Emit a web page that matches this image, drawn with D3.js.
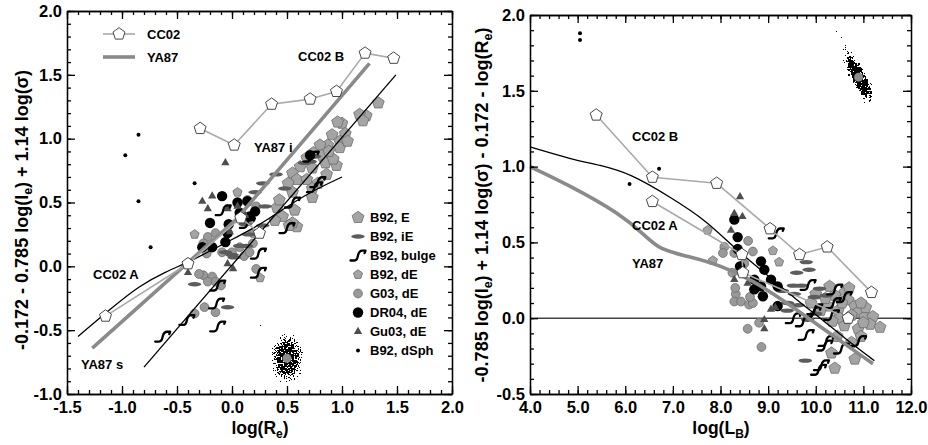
<!DOCTYPE html>
<html>
<head>
<meta charset="utf-8">
<script src="https://cdn.jsdelivr.net/npm/d3@7"></script>
<style>
  html, body { margin: 0; padding: 0; background: #fff; }
  svg { display: block; font-family: "Liberation Sans", Arial, Helvetica, sans-serif; font-weight: bold; }
  .tick text { font: bold 16.5px "Liberation Sans", Arial, sans-serif; fill: #000; }
  .tick line, .domain { stroke: #000; stroke-width: 1.3; }
</style>
</head>
<body>
<svg id="chart" width="928" height="445"></svg>
<script>
// ---------- tick labels ----------
const leftXTicks  = [-1.5, -1.0, -0.5, 0.0, 0.5, 1.0, 1.5, 2.0];
const leftYTicks  = [-1.0, -0.5, 0.0, 0.5, 1.0, 1.5, 2.0];
const rightXTicks = [4, 5, 6, 7, 8, 9, 10, 11, 12];
const rightYTicks = [-0.5, 0.0, 0.5, 1.0, 1.5, 2.0];

// ---------- left panel: log(Re) vs kappa-like combination ----------
const leftE = [[1.33,1.28],[1.22,1.18],[1.16,1.19],[1.19,1.14],[1.00,1.12],[1.03,1.04],[0.96,1.13],[0.91,1.03],
  [0.98,0.98],[0.87,0.95],[0.80,0.95],[0.98,0.93],[0.74,0.89],[0.82,0.87],[0.68,0.85],[0.95,0.79],[0.85,0.81],
  [0.62,0.78],[0.73,0.77],[0.55,0.73],[0.59,0.68],[0.68,0.68],[0.86,0.72],[0.78,0.65],[0.51,0.65],[0.55,0.58],
  [0.73,0.61],[0.73,0.54],[0.57,0.44],[0.41,0.46],[0.46,0.39],[0.59,0.31],[0.55,0.34],[0.39,0.36],[0.52,0.32],
  [0.92,0.84],[0.88,0.90],[1.05,0.98],[0.43,0.52]];
const leftDE = [[-0.34,0.25],[0.05,0.58],[0.255,-0.09]];
const leftG03 = [[-0.22,0.23],[-0.15,0.26],[-0.26,0.18],[-0.23,0.10],[-0.09,0.11],[0.00,0.11],[-0.26,-0.07],
  [-0.18,-0.08],[-0.22,-0.12],[-0.15,-0.12],[-0.25,-0.32],[-0.15,-0.36],[-0.34,-0.37],[-0.06,0.19],[0.07,0.15],
  [0.19,0.18],[0.07,0.40],[0.16,0.36],[0.11,0.08],[0.16,0.11],[0.22,-0.02],[-0.30,-0.06],[-0.10,-0.15],
  [0.14,0.52],[0.22,0.47],[0.19,0.26]];
const leftDR04 = [[-0.09,0.55],[-0.20,0.34],[0.05,0.50],[0.14,0.51],[0.21,0.43],[-0.27,0.15],[-0.18,0.15],
  [-0.04,0.26],[-0.06,0.19],[0.16,0.39],[0.71,0.87],[0.07,0.42],[-0.03,0.33]];
const leftGu03 = [[-0.06,0.81],[-0.27,0.51],[-0.18,0.55],[-0.22,0.45],[-0.04,0.45],[-0.40,-0.05],[-0.04,0.02],
  [0.01,-0.02],[-0.02,0.27],[0.05,0.47],[0.12,0.40]];
const leftIE = [[0.28,0.65],[0.21,0.58],[0.30,0.47],[0.48,0.61],[0.66,0.81],[0.71,0.82],[-0.34,-0.14],[-0.04,-0.32],
  [0.12,0.33],[0.00,0.09],[0.07,0.16],[0.15,0.25],[0.40,0.72],[0.75,0.86],[0.02,0.07],[-0.06,0.11],[0.13,0.16],[0.28,0.32]];
const leftBulge = [[-0.63,-0.55],[-0.41,-0.42],[-0.14,-0.29],[-0.13,-0.47],[-0.13,-0.15],[0.24,0.10],[0.24,-0.05],
  [0.50,0.30],[-0.08,0.44],[0.14,0.34],[0.75,0.62],[0.55,0.50],[0.78,0.66],[0.72,0.86]];
const leftDSph = [[-0.97,0.87],[-0.85,1.03],[-0.85,0.51],[-0.74,0.15],[-0.34,0.65]];

const leftCC02B = [[-0.29,1.08],[0.02,0.95],[0.36,1.27],[0.71,1.31],[0.95,1.37],[1.21,1.67],[1.47,1.63]];
const leftCC02A = [[-1.15,-0.39],[-0.40,0.02],[0.08,0.38],[0.25,0.26]];
const leftFitA = [[-1.40,-0.55],[-1.10,-0.33],[-0.84,-0.15],[-0.60,-0.04],[-0.40,0.03],[-0.20,0.12],[0.00,0.21],
  [0.20,0.30],[0.40,0.41],[0.68,0.57],[1.00,0.70]];
const leftFitB = [[-0.80,-0.79],[1.49,1.50]];
const leftYA87 = [[-1.27,-0.64],[0.03,0.36],[1.25,1.59]];
const leftCloudCentre = [0.50, -0.72];

// ---------- right panel: log(LB) vs the same combination minus log(Re) ----------
const rightE = [[10.29,0.21],[10.61,0.17],[10.68,0.12],[10.47,0.05],[10.82,0.08],[10.89,0.04],[11.03,0.01],
  [11.20,0.01],[11.35,-0.06],[11.14,-0.04],[10.89,-0.07],[10.75,-0.16],[10.82,-0.27],[10.40,-0.33],[10.33,-0.23],
  [10.50,0.00],[10.55,0.10],[10.70,0.20],[10.40,0.15],[10.25,0.08],[10.95,-0.12],[11.05,0.07],[10.60,-0.05],
  [10.75,0.02],[10.35,-0.02],[9.90,0.10],[10.00,0.16],[10.20,0.13],[11.00,-0.03],[10.95,0.10],[10.10,0.05],[10.45,-0.12]];
const rightDE = [[7.73,0.58],[9.10,0.445],[9.23,0.37],[7.84,0.38]];
const rightG03 = [[8.08,0.47],[8.29,0.43],[8.25,0.30],[8.32,0.16],[8.29,0.11],[8.43,0.11],[8.60,0.09],[8.57,-0.07],
  [8.86,-0.19],[8.58,0.51],[8.68,0.10],[8.81,-0.03],[8.05,0.43],[8.31,0.20],[8.62,0.14],[8.68,0.44],[8.50,0.36]];
const rightDR04 = [[8.29,0.65],[8.36,0.535],[8.36,0.456],[8.41,0.342],[8.85,0.375],[8.92,0.32],[8.85,0.21],
  [8.71,0.19],[8.89,0.145],[9.06,0.254],[9.20,0.21],[9.20,0.08],[8.71,0.254]];
const rightGu03 = [[8.41,0.80],[8.29,0.69],[8.46,0.67],[8.22,0.58],[8.29,0.255],[9.06,0.058],[8.92,-0.01],
  [8.92,-0.07],[8.57,0.23],[9.15,0.07]];
const rightIE = [[9.80,0.37],[9.86,0.32],[9.78,-0.28],[9.70,0.215],[10.08,0.195],[9.55,0.16],[9.97,0.14],[9.63,0.085],
  [10.22,0.15],[9.53,0.215],[9.41,0.10],[9.83,-0.01],[9.30,0.18],[9.40,0.05],[10.00,0.03],[9.60,0.30]];
const rightBulge = [[9.17,0.56],[9.53,0.00],[9.74,-0.02],[9.80,-0.11],[9.95,0.04],[10.06,-0.34],[10.22,-0.15],
  [10.33,0.02],[10.54,-0.20],[10.37,0.10],[10.60,0.14],[9.84,0.22],[10.90,-0.15],[10.12,-0.31],[10.19,-0.18],
  [9.98,0.06],[10.40,0.19]];
const rightDSph = [[5.05,1.88],[5.05,1.835],[6.09,0.885],[6.71,0.985]];

const rightCC02B = [[5.39,1.34],[6.57,0.93],[7.92,0.89],[9.04,0.59],[9.66,0.42],[10.24,0.47],[11.17,0.17]];
const rightCC02A = [[6.57,0.77],[8.45,0.42],[8.47,0.30],[10.68,0.00]];
const rightFit = [[4.00,1.13],[4.85,1.05],[5.47,1.01],[6.10,0.955],[6.94,0.80],[7.72,0.64],[8.26,0.47],
  [9.00,0.28],[9.60,0.12],[10.10,0.00],[10.60,-0.13],[11.23,-0.28]];
const rightYA87 = [[4.00,1.00],[4.84,0.875],[5.89,0.69],[6.40,0.55],[6.73,0.45],[7.30,0.41],[7.99,0.35],
  [8.68,0.25],[9.40,0.10],[10.20,-0.08],[11.20,-0.30]];
const rightZero = [[4, 0], [12, 0]];
const rightCloudCentre = [10.90, 1.59];

// ---------- legend entries ----------
const legendNames = ["B92, E", "B92, iE", "B92, bulge", "B92, dE", "G03, dE", "DR04, dE", "Gu03, dE", "B92, dSph"];
const legendKinds = ["E", "iE", "bulge", "dE", "G03", "DR04", "Gu03", "dSph"];

// ---------- drawing ----------
const svg = d3.select("#chart");
const defs = svg.append("defs");

const grad = defs.append("radialGradient").attr("id", "cloudFade");
grad.append("stop").attr("offset", "0%").attr("stop-color", "#000").attr("stop-opacity", 1);
grad.append("stop").attr("offset", "45%").attr("stop-color", "#000").attr("stop-opacity", 0.85);
grad.append("stop").attr("offset", "100%").attr("stop-color", "#000").attr("stop-opacity", 0);

const gradTail = defs.append("radialGradient").attr("id", "cloudTail");
gradTail.append("stop").attr("offset", "0%").attr("stop-color", "#000").attr("stop-opacity", 0.6);
gradTail.append("stop").attr("offset", "100%").attr("stop-color", "#000").attr("stop-opacity", 0);

// grain texture turning a smooth density into scattered dots
const f = defs.append("filter").attr("id", "speckle")
  .attr("x", "-20%").attr("y", "-20%").attr("width", "140%").attr("height", "140%")
  .attr("color-interpolation-filters", "sRGB");
f.append("feTurbulence").attr("type", "fractalNoise").attr("baseFrequency", 0.71)
  .attr("numOctaves", 2).attr("seed", 5).attr("result", "noise");
f.append("feColorMatrix").attr("in", "noise").attr("type", "matrix")
  .attr("values", "0 0 0 0 0  0 0 0 0 0  0 0 0 0 0  1 0 0 0 0").attr("result", "grain");
f.append("feComposite").attr("in", "SourceAlpha").attr("in2", "grain").attr("operator", "arithmetic")
  .attr("k1", 0).attr("k2", 1.6).attr("k3", 3).attr("k4", -2.05).attr("result", "mix");
f.append("feComponentTransfer").attr("in", "mix")
  .append("feFuncA").attr("type", "discrete").attr("tableValues", "0 1");

function pentagon(r) {
  const pts = d3.range(5).map(i => {
    const a = -Math.PI / 2 + i * 2 * Math.PI / 5;
    return [r * Math.cos(a), r * Math.sin(a)];
  });
  return "M" + pts.map(p => p[0].toFixed(2) + "," + p[1].toFixed(2)).join("L") + "Z";
}
const bulgePath = "M-7.5,5 L-3.5,5 C-1,5 -0.5,3 0,0 C0.6,-3 1.8,-4.8 4.5,-4.8 L7.5,-4.8 L6.6,-2.4";

function drawMarker(sel, kind) {
  switch (kind) {
    case "E":
      sel.append("path").attr("d", pentagon(6.2)).attr("fill", "#a4a4a4").attr("stroke", "#6c6c6c").attr("stroke-width", 0.8); break;
    case "dE":
      sel.append("path").attr("d", pentagon(4.8)).attr("fill", "#a4a4a4").attr("stroke", "#6c6c6c").attr("stroke-width", 0.8); break;
    case "G03":
      sel.append("circle").attr("r", 4.4).attr("fill", "#999").attr("stroke", "#6c6c6c").attr("stroke-width", 0.8); break;
    case "DR04":
      sel.append("circle").attr("r", 5.2).attr("fill", "#000"); break;
    case "Gu03":
      sel.append("path").attr("d", d3.symbol(d3.symbolTriangle, 30)()).attr("fill", "#4e4e4e"); break;
    case "iE":
      sel.append("ellipse").attr("rx", 6.8).attr("ry", 2.2).attr("fill", "#5c5c5c"); break;
    case "bulge":
      sel.append("path").attr("d", bulgePath).attr("fill", "none").attr("stroke", "#000")
        .attr("stroke-width", 2.3).attr("stroke-linejoin", "round").attr("stroke-linecap", "round"); break;
    case "dSph":
      sel.append("circle").attr("r", 2).attr("fill", "#000"); break;
  }
}

function scatter(g, x, y, data, kind) {
  g.append("g").selectAll("g").data(data).join("g")
    .attr("transform", d => `translate(${x(d[0])},${y(d[1])})`)
    .each(function () { drawMarker(d3.select(this), kind); });
}

function frame(g, x, y, xMajor, xMinor, yMajor, yMinor) {
  const [xa, xb] = x.range(), [yb, ya] = y.range();
  const fmt = d => d.toFixed(1);
  g.append("g").attr("transform", `translate(0,${yb})`)
    .call(d3.axisBottom(x).tickValues(xMinor).tickSize(-4).tickSizeOuter(0).tickFormat(""));
  g.append("g").attr("transform", `translate(0,${yb})`)
    .call(d3.axisBottom(x).tickValues(xMajor).tickSize(-8).tickSizeOuter(0).tickPadding(7).tickFormat(fmt));
  g.append("g").attr("transform", `translate(0,${ya})`)
    .call(d3.axisTop(x).tickValues(xMinor).tickSize(-4).tickSizeOuter(0).tickFormat(""));
  g.append("g").attr("transform", `translate(0,${ya})`)
    .call(d3.axisTop(x).tickValues(xMajor).tickSize(-8).tickSizeOuter(0).tickFormat(""));
  g.append("g").attr("transform", `translate(${xa},0)`)
    .call(d3.axisLeft(y).tickValues(yMinor).tickSize(-4).tickSizeOuter(0).tickFormat(""));
  g.append("g").attr("transform", `translate(${xa},0)`)
    .call(d3.axisLeft(y).tickValues(yMajor).tickSize(-8).tickSizeOuter(0).tickPadding(5).tickFormat(fmt));
  g.append("g").attr("transform", `translate(${xb},0)`)
    .call(d3.axisRight(y).tickValues(yMinor).tickSize(-4).tickSizeOuter(0).tickFormat(""));
  g.append("g").attr("transform", `translate(${xb},0)`)
    .call(d3.axisRight(y).tickValues(yMajor).tickSize(-8).tickSizeOuter(0).tickFormat(""));
}

function lineOf(g, x, y, data, curve, stroke, width) {
  g.append("path").datum(data)
    .attr("d", d3.line().x(d => x(d[0])).y(d => y(d[1])).curve(curve))
    .attr("fill", "none").attr("stroke", stroke).attr("stroke-width", width)
    .attr("stroke-linejoin", "round");
}

function cc02(g, x, y, data) {
  lineOf(g, x, y, data, d3.curveLinear, "#a9a9a9", 1.6);
  g.append("g").selectAll("path").data(data).join("path")
    .attr("transform", d => `translate(${x(d[0])},${y(d[1])})`)
    .attr("d", pentagon(6.3)).attr("fill", "#fff").attr("stroke", "#333").attr("stroke-width", 0.9);
}

function label(g, x, y, text, size) {
  g.append("text").attr("x", x).attr("y", y).attr("font-size", size || 13).text(text);
}

const step = (a, b, s) => d3.range(Math.round(a / s), Math.round(b / s) + 1).map(i => +(i * s).toFixed(3));

// ===== left panel =====
const xL = d3.scaleLinear().domain([-1.5, 2.0]).range([67, 452]);
const yL = d3.scaleLinear().domain([-1.0, 2.0]).range([394, 11]);
const gL = svg.append("g");

// error cloud
{
  const cx = xL(leftCloudCentre[0]), cy = yL(leftCloudCentre[1]);
  gL.append("ellipse").attr("cx", cx).attr("cy", cy).attr("rx", 20).attr("ry", 29)
    .attr("fill", "url(#cloudFade)").attr("filter", "url(#speckle)");
  gL.append("circle").attr("cx", cx).attr("cy", cy).attr("r", 4.5).attr("fill", "#8c8c8c");
}

scatter(gL, xL, yL, leftG03, "G03");
scatter(gL, xL, yL, leftE, "E");
scatter(gL, xL, yL, leftDE, "dE");
scatter(gL, xL, yL, leftIE, "iE");
scatter(gL, xL, yL, leftDR04, "DR04");
scatter(gL, xL, yL, leftGu03, "Gu03");
scatter(gL, xL, yL, leftBulge, "bulge");
scatter(gL, xL, yL, leftDSph, "dSph");

lineOf(gL, xL, yL, leftYA87, d3.curveLinear, "#8a8a8a", 3.6);
lineOf(gL, xL, yL, leftFitA, d3.curveBasis, "#000", 1.3);
lineOf(gL, xL, yL, leftFitB, d3.curveLinear, "#000", 1.3);
cc02(gL, xL, yL, leftCC02B);
cc02(gL, xL, yL, leftCC02A);

frame(gL, xL, yL, leftXTicks, step(-1.5, 2.0, 0.1), leftYTicks, step(-1.0, 2.0, 0.1));

// curve labels
label(gL, 298, 61, "CC02 B");
label(gL, 254, 152, "YA87 i");
label(gL, 93, 279, "CC02 A");
label(gL, 81, 369, "YA87 s");

// top legend
gL.append("line").attr("x1", 103).attr("x2", 135).attr("y1", 34).attr("y2", 34)
  .attr("stroke", "#a9a9a9").attr("stroke-width", 1.6);
gL.append("path").attr("transform", "translate(119,34)").attr("d", pentagon(6.3))
  .attr("fill", "#fff").attr("stroke", "#333").attr("stroke-width", 0.9);
label(gL, 147, 39, "CC02");
gL.append("line").attr("x1", 103).attr("x2", 135).attr("y1", 57).attr("y2", 57)
  .attr("stroke", "#8a8a8a").attr("stroke-width", 3.6);
label(gL, 147, 62, "YA87");

// symbol legend
legendNames.forEach((name, i) => {
  const by = 222 + i * 19;
  const m = gL.append("g").attr("transform", `translate(358,${by - 4.5})`);
  drawMarker(m, legendKinds[i]);
  label(gL, 370, by, name);
});

// axis titles
{
  const t = gL.append("text").attr("x", 260).attr("y", 434).attr("text-anchor", "middle").attr("font-size", 17.5);
  t.append("tspan").text("log(R");
  t.append("tspan").attr("font-size", 12).attr("dy", 4).text("e");
  t.append("tspan").attr("dy", -4).text(")");
  const v = gL.append("text").attr("transform", "translate(28,210) rotate(-90)")
    .attr("text-anchor", "middle").attr("font-size", 18);
  v.append("tspan").text("-0.172 - 0.785 log(I");
  v.append("tspan").attr("font-size", 12.5).attr("dy", 4).text("e");
  v.append("tspan").attr("dy", -4).text(") + 1.14 log(σ)");
}

// ===== right panel =====
const xR = d3.scaleLinear().domain([4, 12]).range([530, 911]);
const yR = d3.scaleLinear().domain([-0.5, 2.0]).range([394, 15]);
const gR = svg.append("g");

lineOf(gR, xR, yR, rightZero, d3.curveLinear, "#444", 1.6);

{
  const cx = xR(rightCloudCentre[0]), cy = yR(rightCloudCentre[1]);
  gR.append("ellipse").attr("cx", cx - 12).attr("cy", cy - 28).attr("rx", 6).attr("ry", 34)
    .attr("transform", `rotate(-27,${cx - 12},${cy - 28})`)
    .attr("fill", "url(#cloudTail)").attr("filter", "url(#speckle)");
  gR.append("ellipse").attr("cx", cx).attr("cy", cy).attr("rx", 11).attr("ry", 38)
    .attr("transform", `rotate(-27,${cx},${cy})`)
    .attr("fill", "url(#cloudFade)").attr("filter", "url(#speckle)");
  gR.append("circle").attr("cx", cx).attr("cy", cy).attr("r", 4.5).attr("fill", "#8c8c8c");
}

scatter(gR, xR, yR, rightG03, "G03");
scatter(gR, xR, yR, rightE, "E");
scatter(gR, xR, yR, rightDE, "dE");
scatter(gR, xR, yR, rightIE, "iE");
scatter(gR, xR, yR, rightDR04, "DR04");
scatter(gR, xR, yR, rightGu03, "Gu03");
scatter(gR, xR, yR, rightBulge, "bulge");
scatter(gR, xR, yR, rightDSph, "dSph");

lineOf(gR, xR, yR, rightYA87, d3.curveBasis, "#8a8a8a", 3.6);
lineOf(gR, xR, yR, rightFit, d3.curveBasis, "#000", 1.3);
cc02(gR, xR, yR, rightCC02B);
cc02(gR, xR, yR, rightCC02A);

frame(gR, xR, yR, rightXTicks, step(4, 12, 0.2), rightYTicks, step(-0.5, 2.0, 0.1));

label(gR, 632, 141, "CC02 B");
label(gR, 632, 230, "CC02 A");
label(gR, 632, 268, "YA87");

{
  const t = gR.append("text").attr("x", 721).attr("y", 434).attr("text-anchor", "middle").attr("font-size", 17.5);
  t.append("tspan").text("log(L");
  t.append("tspan").attr("font-size", 12).attr("dy", 4).text("B");
  t.append("tspan").attr("dy", -4).text(")");
  const v = gR.append("text").attr("transform", "translate(488,205) rotate(-90)")
    .attr("text-anchor", "middle").attr("font-size", 18);
  v.append("tspan").text("-0.785 log(I");
  v.append("tspan").attr("font-size", 12.5).attr("dy", 4).text("e");
  v.append("tspan").attr("dy", -4).text(") + 1.14 log(σ) - 0.172 - log(R");
  v.append("tspan").attr("font-size", 12.5).attr("dy", 4).text("e");
  v.append("tspan").attr("dy", -4).text(")");
}
</script>
</body>
</html>
